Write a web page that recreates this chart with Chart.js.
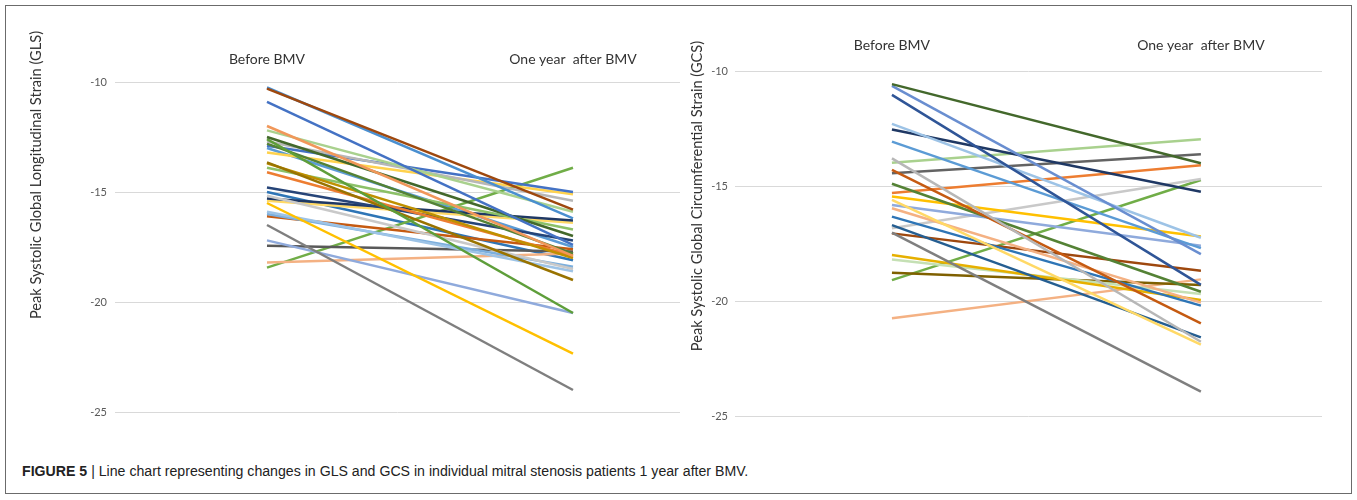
<!DOCTYPE html>
<html>
<head>
<meta charset="utf-8">
<script src="https://cdn.jsdelivr.net/npm/chart.js@4.4.0/dist/chart.umd.min.js"></script>
<style>
  html, body { margin: 0; padding: 0; background: #fff; }
  body { width: 1357px; height: 500px; position: relative; overflow: hidden; }
  #frame { position: absolute; left: 5px; top: 5px; width: 1345px; height: 487px; border: 1px solid #6b6b6b; }
  #glsWrap { position: absolute; left: 10px; top: 10px; width: 670px; height: 420px; }
  #gcsWrap { position: absolute; left: 680px; top: 10px; width: 665px; height: 430px; }
  .ytitle { position: absolute; width: 400px; height: 18px; line-height: 18px; text-align: center;
            font-family: Lato, "Open Sans", sans-serif; font-size: 14.6px; color: #333;
            transform: rotate(-90deg); transform-origin: 50% 50%; white-space: nowrap; }
  #glsTitle { left: -164px; top: 166px; }
  #gcsTitle { left: 497px; top: 187px; }
  #caption { position: absolute; left: 22px; top: 463px; font-family: "Liberation Sans", Arial, sans-serif;
             font-size: 14.15px; color: #222; white-space: nowrap; }
  #caption b { font-weight: bold; }
</style>
</head>
<body>
<div id="frame"></div>
<div id="glsWrap"><canvas id="glsChart"></canvas></div>
<div id="gcsWrap"><canvas id="gcsChart"></canvas></div>
<div class="ytitle" id="glsTitle">Peak Systolic Global Longitudinal Strain (GLS)</div>
<div class="ytitle" id="gcsTitle">Peak Systolic Global Circumferential Strain (GCS)</div>
<div id="caption"><b>FIGURE 5</b> | Line chart representing changes in GLS and GCS in individual mitral stenosis patients 1 year after BMV.</div>

<script>
// ─── Data ────────────────────────────────────────────────────────────────────
const categories = ['Before BMV', 'One year  after BMV'];
const yTicks     = [-10, -15, -20, -25];

// Global longitudinal strain, one entry per patient
const glsBefore = [-10.3, -10.25, -10.9, -12.0, -12.2, -12.5, -12.6, -12.7, -12.8, -12.9,
                   -13.2, -13.65, -13.7, -13.9, -14.1, -14.8, -15.17, -15.3, -15.5, -15.4,
                   -15.9, -16.0, -16.1, -16.5, -17.2, -17.44, -18.2, -18.44, -13.0, -15.0];
const glsAfter  = [-15.8, -16.2, -17.4, -17.9, -15.9, -17.0, -20.5, -15.4, -17.8, -15.0,
                   -15.1, -19.0, -18.0, -16.7, -17.9, -17.2, -18.5, -16.3, -22.35, -16.4,
                   -18.6, -18.4, -17.6, -24.0, -20.5, -17.7, -17.8, -13.9, -17.5, -18.1];
const glsColors = ['#9E480E', '#4A8FD0', '#4472C4', '#F1975A', '#A9D18E', '#43682B', '#5E9E3A', '#B7B7B7', '#548235', '#4472C4',
                   '#FFD24D', '#997300', '#BF9000', '#8CC168', '#ED7D31', '#264478', '#C9C9C9', '#1F3864', '#FFC000', '#FFD966',
                   '#9DC3E6', '#7CAFDD', '#C55A11', '#7F7F7F', '#8FAADC', '#595959', '#F4B183', '#70AD47', '#5B9BD5', '#2E75B6'];

// Global circumferential strain, one entry per patient
const gcsBefore = [-10.57, -10.65, -11.04, -12.3, -12.54, -13.07, -13.8, -13.99, -14.3, -14.45,
                   -14.9, -15.3, -15.46, -15.6, -15.83, -15.97, -16.33, -16.7, -16.84, -17.03,
                   -17.06, -18.0, -18.2, -18.77, -19.09, -20.75];
const gcsAfter  = [-14.01, -17.96, -19.3, -17.25, -15.25, -17.7, -21.77, -12.97, -20.97, -13.62,
                   -19.6, -14.1, -17.2, -21.9, -17.6, -20.07, -20.2, -21.58, -14.7, -23.94,
                   -18.68, -19.96, -19.7, -19.3, -14.74, -19.06];
const gcsColors = ['#43682B', '#698ED0', '#2F5597', '#9DC3E6', '#1F3864', '#5B9BD5', '#B7B7B7', '#A9D18E', '#C55A11', '#636363',
                   '#548235', '#ED7D31', '#FFC000', '#FFD966', '#8FAADC', '#F4B183', '#2E75B6', '#255E91', '#C9C9C9', '#7F7F7F',
                   '#9E480E', '#E6B000', '#C5E0B4', '#7F6000', '#70AD47', '#F4B183'];

// ─── Helpers ─────────────────────────────────────────────────────────────────
function buildDatasets(before, after, colors) {
    return before.map((b, i) => ({
        data: [{ x: 0, y: b }, { x: 1, y: after[i] }],
        borderColor: colors[i],
        borderWidth: 2.5,
        pointRadius: 0,
        fill: false,
    }));
}

function makeChart(id, opts) {
    return new Chart(document.getElementById(id), {
        type: 'line',
        data: { datasets: buildDatasets(opts.before, opts.after, opts.colors) },
        options: {
            responsive: true,
            maintainAspectRatio: false,
            animation: false,
            layout: { padding: opts.padding },
            plugins: { legend: { display: false }, tooltip: { enabled: false } },
            scales: {
                x: {
                    type: 'linear',
                    position: 'top',
                    min: opts.xMin,
                    max: opts.xMax,
                    afterBuildTicks: ax => { ax.ticks = categories.map((c, i) => ({ value: i })); },
                    afterFit: ax => { ax.height = opts.xHeight; },
                    ticks: {
                        callback: v => categories[v],
                        autoSkip: false,
                        maxRotation: 0,
                        padding: opts.xPad,
                        color: '#333',
                        font: { family: 'Lato, "Open Sans", sans-serif', size: 14 },
                    },
                    grid: { display: false },
                    border: { display: false },
                },
                y: {
                    min: -25,
                    max: -10,
                    afterBuildTicks: ax => { ax.ticks = yTicks.map(v => ({ value: v })); },
                    afterFit: ax => { ax.width = opts.yWidth; },
                    ticks: {
                        padding: opts.yPad,
                        color: '#595959',
                        font: { family: 'Lato, "Open Sans", sans-serif', size: 11 },
                    },
                    grid: { color: '#d9d9d9', lineWidth: 1, drawTicks: false },
                    border: { display: false },
                },
            },
        },
    });
}

// ─── Charts ──────────────────────────────────────────────────────────────────
makeChart('glsChart', {
    before: glsBefore, after: glsAfter, colors: glsColors,
    padding: { left: 0, right: 0, top: 0, bottom: 18 },
    xMin: -0.4967, xMax: 1.3497, xHeight: 72, xPad: 6,
    yWidth: 105, yPad: 8,
});

makeChart('gcsChart', {
    before: gcsBefore, after: gcsAfter, colors: gcsColors,
    padding: { left: 0, right: 23, top: 0, bottom: 24 },
    xMin: -0.508, xMax: 1.392, xHeight: 61, xPad: 9,
    yWidth: 55, yPad: 7,
});
</script>
</body>
</html>
